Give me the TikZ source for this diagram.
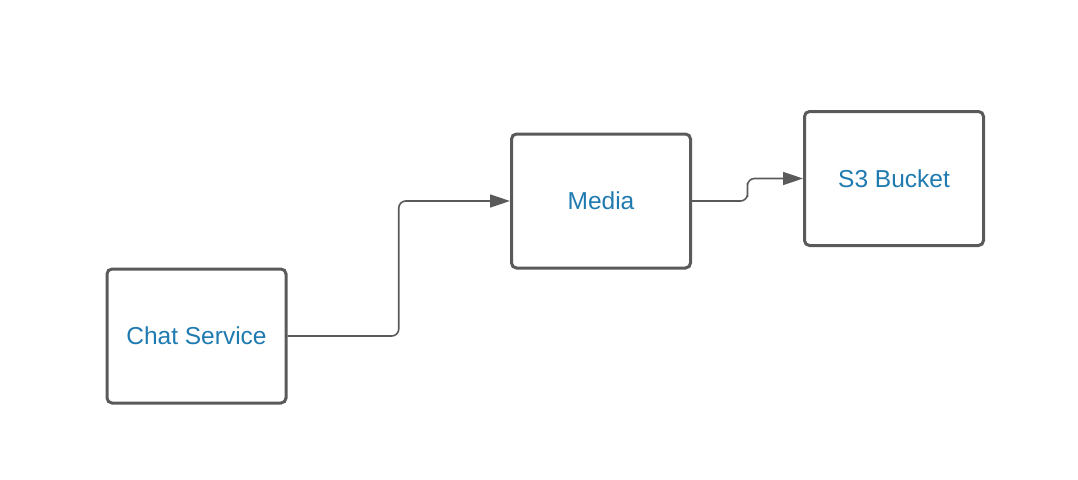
\documentclass[tikz,border=0pt]{standalone}
\usepackage{fontspec}
\setmainfont{Liberation Sans}
\usetikzlibrary{arrows.meta,calc}

\definecolor{boxgray}{HTML}{5A5A5A}
\definecolor{textblue}{HTML}{1F7AB0}

\begin{document}
\begin{tikzpicture}[x=1pt, y=-1pt,
  box/.style={draw=boxgray, line width=3pt, rounded corners=5pt, minimum width=179pt, minimum height=134pt, inner sep=0pt, text=textblue, font=\fontsize{24.5}{28}\selectfont},
  conn/.style={draw=boxgray, line width=1.6pt, rounded corners=7pt, -{Triangle[length=20pt,width=13pt]}}]

\useasboundingbox (0,0) rectangle (1078,479);

% Service boxes
\node[box] (chat) at (196.5,336) {Chat Service};
\node[box] (media) at (601,201) {Media};
\node[box] (bucket) at (894,178.5) {S3 Bucket};

% Connectors
\draw[conn] (chat.east) -| ($(chat.east)!0.5!(media.west)$) |- (media.west);
\draw[conn] (media.east) -| ($(media.east)!0.5!(bucket.west)$) |- (bucket.west);

\end{tikzpicture}
\end{document}
